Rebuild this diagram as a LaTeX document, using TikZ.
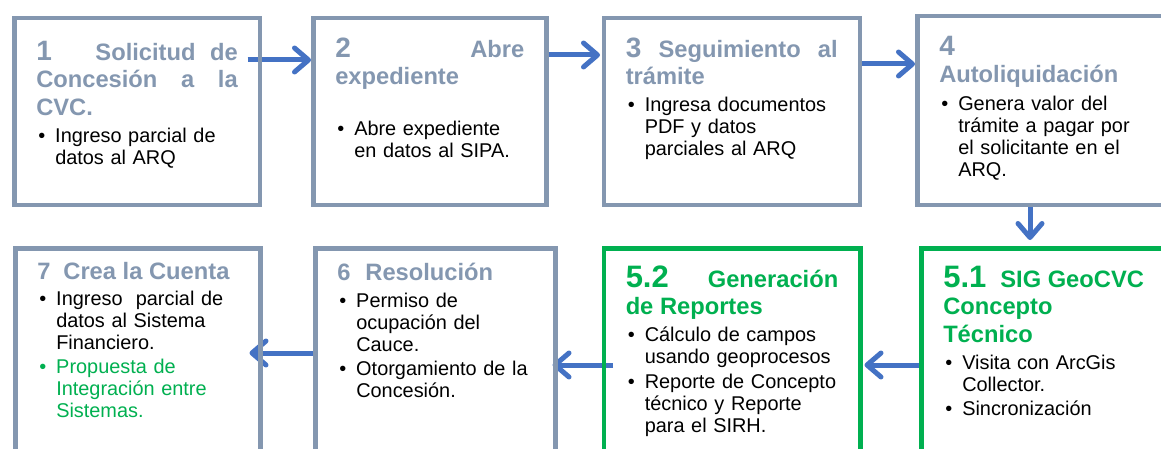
\documentclass[tikz,border=0pt]{standalone}
\usepackage{fontspec}
\setmainfont{Liberation Sans}
\setsansfont{Liberation Sans}
\usetikzlibrary{arrows.meta,calc,backgrounds}
\definecolor{gris}{HTML}{8497B0}
\definecolor{verde}{HTML}{00B050}
\definecolor{azul}{HTML}{4472C4}
\newcommand{\cifra}[2][28]{{\fontsize{#1}{#1}\selectfont #2}}
\newcommand{\titulo}[2][gris]{{\fontsize{23.7}{27.5}\selectfont\bfseries\leavevmode\color{#1}#2\par}}
\newcommand{\vineta}[2][2.5pt]{\par\vspace{#1}{\hangindent=19pt\hangafter=1\noindent\makebox[19pt][l]{\kern2pt\textbullet}#2\par}}

\begin{document}
\begin{tikzpicture}[x=1pt,y=-1pt,font=\sffamily\fontsize{19.9}{22}\selectfont]
\useasboundingbox (0,0) rectangle (1161,449);
\clip (0,0) rectangle (1161,449);
\tikzset{paso/.style={draw=gris, line width=4.5pt, anchor=north west, inner xsep=22pt, inner ysep=0pt, align=left},
  pasoverde/.style={paso, draw=verde},
  flecha/.style={draw=azul, line width=5pt, -{Straight Barb[length=14pt,width=24pt,round]}}}
\node[paso,text width=201.5pt,text height=42pt,text depth=144.5pt] (b1) at (12,16) {\titulo{\cifra{1}\hfill\hfill\hfill Solicitud\hfill de\newline Concesión\hfill a\hfill la\newline CVC.}\vineta[5pt]{Ingreso parcial de\newline datos al ARQ}};
\node[paso,text width=189pt,text height=39pt,text depth=147.5pt] (b2) at (311,16) {\titulo{\cifra{2}\hfill Abre\newline expediente}\vineta[29pt]{Abre expediente\newline en datos al SIPA.}};
\node[paso,text width=212pt,text height=39pt,text depth=147.5pt] (b3) at (601.5,16) {\titulo{\cifra{3}\hfill Seguimiento\hfill al\newline trámite}\vineta[5pt]{Ingresa documentos\newline PDF y datos\newline parciales al ARQ}};
\node[paso,text width=221pt,text height=39pt,text depth=149.5pt] (b4) at (915,14) {\titulo{\cifra{4}\newline Autoliquidación}\vineta[6pt]{Genera valor del\newline trámite a pagar por\newline el solicitante en el\newline ARQ.}};
\node[paso,text width=201pt,text height=31pt,text depth=193pt] (b7) at (13,246) {\titulo{7\hspace{13pt}Crea la Cuenta}\vineta[4pt]{Ingreso\ \ parcial de\newline datos al Sistema\newline Financiero.}{\color{verde}\vineta{Propuesta de\newline Integración entre\newline Sistemas.}}};
\node[paso,text width=196pt,text height=32pt,text depth=192pt] (b6) at (313,246) {\titulo{6\hspace{15pt}Resolución}\vineta[5pt]{Permiso de\newline ocupación del\newline Cauce.}\vineta{Otorgamiento de la\newline Concesión.}};
\node[pasoverde,text width=212.5pt,text height=39pt,text depth=185pt] (b52) at (601.5,246) {\titulo[verde]{\cifra[31]{5.2}\hfill Generación\newline de Reportes}\vineta[5pt]{Cálculo de campos\newline usando geoprocesos}\vineta{Reporte de Concepto\newline técnico y Reporte\newline para el SIRH.}};
\node[pasoverde,text width=199pt,text height=39pt,text depth=185pt] (b51) at (919,246) {\titulo[verde]{\mbox{\cifra[31]{5.1}\hspace{14pt}SIG GeoCVC}\newline Concepto\newline Técnico}\vineta[5pt]{Visita con ArcGis\newline Collector.}\vineta{Sincronización}};
\coordinate (i12) at ($(b1.north east)+(-14.5,44)$); \coordinate (f12) at ($(b2.north west)+(0,44)$);
\coordinate (i23) at ($(b2.north east)+(0,39)$); \coordinate (f23) at ($(b3.north west)+(-1.5,39)$);
\coordinate (i34) at ($(b3.north east)+(0,48)$); \coordinate (f34) at ($(b4.north west)+(0,50)$);
\coordinate (i45) at ($(b4.south west)+(115,0)$); \coordinate (f45) at ($(b51.north west)+(111,-6)$);
\coordinate (i5152) at ($(b51.north west)+(0,119)$); \coordinate (f5152) at ($(b52.north east)+(2,119)$);
\coordinate (i526) at ($(b52.north west)+(11.5,119)$); \coordinate (f526) at ($(b6.north east)+(-5,119)$);
\coordinate (i67) at ($(b6.north west)+(0,107)$); \coordinate (f67) at ($(b7.north east)+(-13,107)$);
\begin{scope}[on background layer]
\fill[white] (0,0) rectangle (1161,449);
\foreach \k in {12,23,34,45,5152,526,67}{\draw[flecha] (i\k) -- (f\k);}
\end{scope}
\end{tikzpicture}
\end{document}
